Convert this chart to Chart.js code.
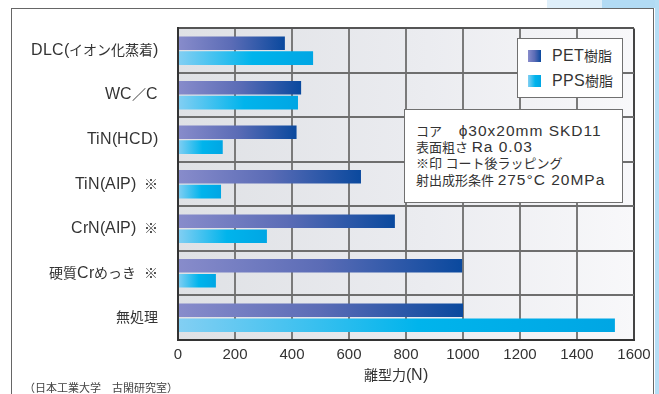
<!DOCTYPE html>
<html lang="ja">
<head>
<meta charset="utf-8">
<title>離型力</title>
<script src="https://cdn.jsdelivr.net/npm/chart.js@4/dist/chart.umd.min.js"></script>
<style>
  /* Latin glyphs a little larger than the kanji/kana that follow them */
  @font-face {
    font-family: "LatinWide";
    src: local("Liberation Sans"), local("LiberationSans"), local("LiberationSans-Regular");
    size-adjust: 112%;
    unicode-range: U+0020-007E;
  }
  html, body { margin: 0; padding: 0; background: #fff; }
  body { width: 659px; height: 394px; position: relative; overflow: hidden;
         font-family: "LatinWide", "Noto Sans CJK JP", sans-serif; color: #333; }
  #c { position: absolute; left: 0; top: 0; }
  .deco { position: absolute; }
  #frame { position: absolute; left: 11px; top: 8px; width: 643px; height: 420px;
           box-sizing: border-box; border: 1px solid #666; border-bottom: none; pointer-events: none; }
  .box { position: absolute; box-sizing: border-box; background: #fff; border: 1.5px solid #707070; }
  #legend { left: 517px; top: 38px; width: 106px; height: 60px; }
  .item { position: absolute; left: 10px; height: 16px; line-height: 16px; font-size: 14px; white-space: nowrap; }
  .item i { position: absolute; left: 0; top: 1.5px; width: 12.5px; height: 12.5px; }
  .item span { position: absolute; left: 24px; top: 0; }
  #note { left: 404px; top: 109px; width: 219px; height: 94px; padding: 13px 0 0 11px;
          font-family: "Liberation Sans", "Noto Sans CJK JP", sans-serif; font-size: 13px; white-space: nowrap; }
  #note div { height: 16.4px; line-height: 16.4px; }
  #note .l { font-size: 15.5px; letter-spacing: 1px; }
  #xtitle { position: absolute; left: 364px; top: 366px; font-size: 14px; line-height: 18px; white-space: nowrap; }
  #source { position: absolute; left: 24px; top: 381px; font-size: 11px; line-height: 13px; color: #444; white-space: nowrap;
            font-family: "Noto Sans CJK JP", sans-serif; }
</style>
</head>
<body>
<div class="deco" style="left:547px;top:0;width:55px;height:8px;background:#dfeffa;"></div>
<div class="deco" style="left:602px;top:0;width:57px;height:8px;background:#b2dbf4;"></div>
<div class="deco" style="left:655px;top:0;width:4px;height:394px;background:#b6def5;"></div>
<div id="frame"></div>
<canvas id="c" width="659" height="394"></canvas>

<div id="legend" class="box">
  <div class="item" style="top:9px;"><i id="swPet"></i><span>PET樹脂</span></div>
  <div class="item" style="top:34px;"><i id="swPps"></i><span>PPS樹脂</span></div>
</div>
<div id="note" class="box">
  <div>コア　 <span class="l">ϕ30x20mm SKD11</span></div>
  <div>表面粗さ <span class="l">Ra 0.03</span></div>
  <div>※印 コート後ラッピング</div>
  <div>射出成形条件 <span class="l">275°C 20MPa</span></div>
</div>
<div id="xtitle">離型力(N)</div>
<div id="source">（日本工業大学　古閑研究室）</div>

<script>
// Coatings compared, release force in N for each resin
const categories = ['DLC(イオン化蒸着)', 'WC／C', 'TiN(HCD)', 'TiN(AIP)  ※', 'CrN(AIP)  ※', '硬質Crめっき  ※', '無処理'];
const petValues = [375, 432, 416, 642, 761, 997, 1000];
const ppsValues = [474, 421, 157, 151, 312, 133, 1533];
const seriesNames = ['PET樹脂', 'PPS樹脂'];
const xTickValues = [0, 200, 400, 600, 800, 1000, 1200, 1400, 1600];

const petStops = [[0, '#888ccb'], [0.5, '#5b6cb6'], [1, '#0a499e']];
const ppsStops = [[0, '#83cff3'], [0.55, '#00b4ec'], [1, '#00a6e4']];

document.getElementById('swPet').style.background =
  'linear-gradient(to right,' + petStops.map(s => s[1] + ' ' + s[0] * 100 + '%').join(',') + ')';
document.getElementById('swPps').style.background =
  'linear-gradient(to right,' + ppsStops.map(s => s[1] + ' ' + s[0] * 100 + '%').join(',') + ')';

// horizontal gradient running along each bar from zero to its end
function barGradient(stops) {
  return (context) => {
    const chart = context.chart;
    if (!chart.chartArea || typeof context.raw !== 'number') return stops[1][1];
    const xs = chart.scales.x;
    const x0 = xs.getPixelForValue(0);
    const x1 = xs.getPixelForValue(context.raw);
    const g = chart.ctx.createLinearGradient(x0, 0, Math.max(x1, x0 + 1), 0);
    stops.forEach(([o, c]) => g.addColorStop(o, c));
    return g;
  };
}

// soft grey-to-white fill behind the grid
const plotBackground = {
  id: 'plotBackground',
  beforeDraw(chart) {
    const { ctx, chartArea: a } = chart;
    const g = ctx.createLinearGradient(a.left, 0, a.right, 0);
    g.addColorStop(0, '#dfe1e5');
    g.addColorStop(0.55, '#ebecf0');
    g.addColorStop(1, '#f8f8fa');
    ctx.save();
    ctx.fillStyle = g;
    ctx.fillRect(a.left, a.top, a.right - a.left, a.bottom - a.top);
    ctx.restore();
  }
};

function drawChart() {
  Chart.defaults.font.family = '"LatinWide", "Noto Sans CJK JP", sans-serif';
  Chart.defaults.color = '#333';

  new Chart(document.getElementById('c'), {
    type: 'bar',
    data: {
      labels: categories,
      datasets: [
        { label: seriesNames[0], data: petValues, backgroundColor: barGradient(petStops),
          categoryPercentage: 0.67, barPercentage: 0.91 },
        { label: seriesNames[1], data: ppsValues, backgroundColor: barGradient(ppsStops),
          categoryPercentage: 0.67, barPercentage: 0.91 }
      ]
    },
    options: {
      indexAxis: 'y',
      responsive: false,
      devicePixelRatio: 1,
      animation: false,
      layout: { padding: { left: 0, top: 27, right: 25, bottom: 0 } },
      plugins: { legend: { display: false }, tooltip: { enabled: false } },
      scales: {
        x: {
          type: 'linear',
          min: xTickValues[0],
          max: xTickValues[xTickValues.length - 1],
          afterBuildTicks: (scale) => { scale.ticks = xTickValues.map(v => ({ value: v })); },
          ticks: {
            color: '#333',
            font: { family: '"Liberation Sans Narrow", "Liberation Sans", sans-serif', size: 15 },
            padding: 6,
            callback: (v) => String(v)
          },
          grid: {
            color: (ctx) => ctx.index === xTickValues.length - 1 ? '#444' : '#7a7a7a',
            lineWidth: 2,
            drawTicks: false
          },
          border: { color: '#333', width: 2 },
          afterFit: (scale) => { scale.height = 54; }
        },
        y: {
          ticks: { color: '#333', font: { size: 14 }, padding: 20 },
          grid: {
            color: (ctx) => ctx.index === 0 ? '#555' : '#6e6e6e',
            lineWidth: 2,
            drawTicks: false,
            offset: true
          },
          border: { color: '#333', width: 2 },
          afterFit: (scale) => { scale.width = 178; }
        }
      }
    },
    plugins: [plotBackground]
  });
}

// wait for the label fonts so the axis text is measured with them
Promise.all([
  document.fonts.load('14px "LatinWide"'),
  document.fonts.load('14px "Noto Sans CJK JP"', '離型'),
  document.fonts.load('15px "Liberation Sans Narrow"', '0')
]).then(drawChart, drawChart);
</script>
</body>
</html>
